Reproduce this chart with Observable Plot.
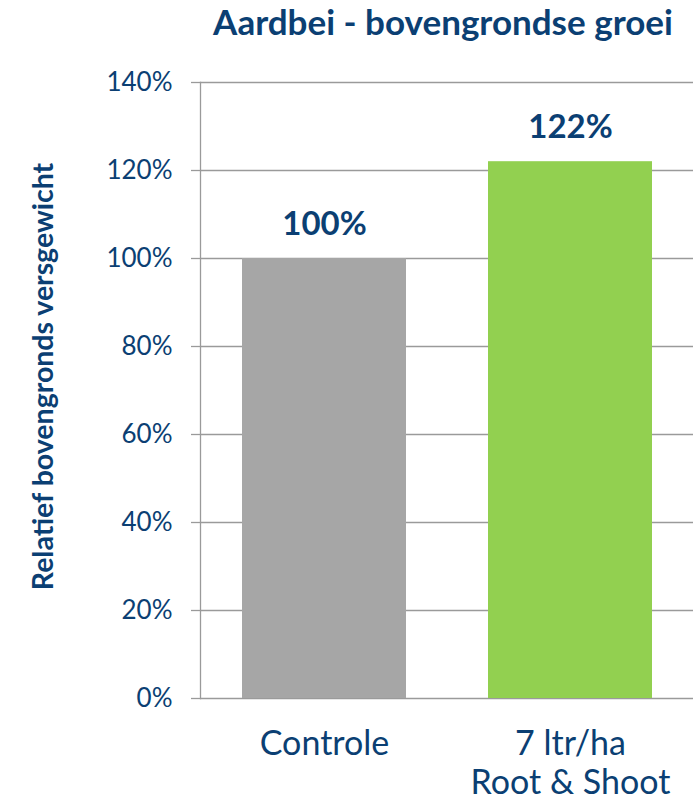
<!DOCTYPE html>
<html>
<head>
<meta charset="utf-8">
<script src="https://cdn.jsdelivr.net/npm/d3@7"></script>
<script src="https://cdn.jsdelivr.net/npm/@observablehq/plot@0.6"></script>
<style>
  body { margin: 0; background: #fff; font-family: Lato, sans-serif; }
  #title { width: 693px; height: 50px; box-sizing: border-box; padding-left: 193px; text-align: center;
           font: bold 35px Lato, sans-serif; line-height: 43px; color: #0B3F73; white-space: nowrap; }
</style>
</head>
<body>
<div id="title">Aardbei - bovengrondse groei</div>
<div id="chart"></div>
<script>
const categories = ["Controle", "7 ltr/ha\nRoot & Shoot"];
const values = [1.00, 1.22];
const barColors = ["#A6A6A6", "#92D050"];
const yTicks = [0, 0.2, 0.4, 0.6, 0.8, 1.0, 1.2, 1.4];
const yLabel = "Relatief bovengronds versgewicht";

const data = categories.map((c, i) => ({category: c, value: values[i], color: barColors[i]}));
const textColor = "#0B3F73";
const gridColor = "#9A9A9A";

const chart = Plot.plot({
  width: 693,
  height: 749,
  marginTop: 32,
  marginBottom: 101,
  marginLeft: 200,
  marginRight: 0,
  style: {fontFamily: "Lato, sans-serif", color: textColor, background: "#fff"},
  x: {domain: categories, paddingInner: 1/3, paddingOuter: 1/6},
  y: {domain: [0, 1.4]},
  marks: [
    Plot.gridY(yTicks, {stroke: gridColor, strokeOpacity: 1, strokeWidth: 1.3}),
    Plot.barY(data, {x: "category", y: "value", fill: "color"}),
    Plot.frame({anchor: "left", stroke: gridColor, strokeWidth: 1.3}),
    Plot.axisY({ticks: yTicks, tickFormat: d3.format(".0%"), tickSize: 9, tickPadding: 19,
                stroke: gridColor, strokeWidth: 1.3, fill: textColor, fontSize: 26, label: null}),
    Plot.axisX({tickSize: 0, tickPadding: 28, fontSize: 34, lineHeight: 1.16, fill: textColor, label: null}),
    Plot.text(data, {x: "category", y: "value", text: d => d3.format(".0%")(d.value),
                     lineAnchor: "bottom", dy: -24, fontSize: 33, fontWeight: "bold", fill: textColor}),
    Plot.text([yLabel], {frameAnchor: "left", textAnchor: "middle", lineAnchor: "middle", rotate: -90,
                         dx: -157, dy: -14, fontSize: 28.5, fontWeight: "bold", fill: textColor})
  ]
});
document.getElementById("chart").append(chart);
</script>
</body>
</html>
